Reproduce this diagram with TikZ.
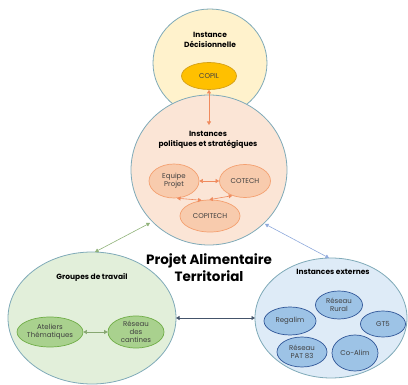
\documentclass[tikz,border=0pt]{standalone}
\usepackage{fontspec}
\setmainfont{Poppins}
\usetikzlibrary{arrows.meta,shapes.geometric}
\definecolor{rim}{HTML}{7FAAB8}
\definecolor{yelfill}{HTML}{FFF2CC}
\definecolor{copilfill}{HTML}{FFC000}
\definecolor{copildraw}{HTML}{D4A017}
\definecolor{pinkfill}{HTML}{FBE5D6}
\definecolor{orfill}{HTML}{F8CBAD}
\definecolor{ordraw}{HTML}{F4A070}
\definecolor{orarrow}{HTML}{F08A5D}
\definecolor{grfill}{HTML}{E2EFDA}
\definecolor{grin}{HTML}{A9D18E}
\definecolor{grdraw}{HTML}{70AD47}
\definecolor{blfill}{HTML}{DEEBF7}
\definecolor{blin}{HTML}{9DC3E6}
\definecolor{bldraw}{HTML}{2F5597}
\definecolor{blarrow}{HTML}{8FAADC}
\definecolor{darkarrow}{HTML}{44546A}
\tikzset{
  inner/.style={draw, line width=0.7pt, ellipse, inner sep=0pt, align=center, font=\fontsize{7}{8}\selectfont, text=black!75},
  lbl/.style={font=\bfseries\fontsize{7.5}{9.5}\selectfont, align=center},
  dbl/.style={{Triangle[width=4pt,length=3.5pt]}-{Triangle[width=4pt,length=3.5pt]}, line width=0.6pt},
}
\begin{document}
\begin{tikzpicture}[x=1pt,y=-1pt]
\useasboundingbox (0,0) rectangle (408,385);
% big circles
\fill[yelfill, draw=rim, line width=0.8pt] (210,63) ellipse [x radius=57, y radius=54];
\node[inner, fill=copilfill, draw=copildraw, minimum width=55pt, minimum height=27pt] (copil) at (209,76) {COPIL};
\fill[pinkfill, draw=rim, line width=0.8pt] (209,170) ellipse [x radius=78, y radius=75];
\fill[grfill, draw=rim, line width=0.8pt] (92,318) ellipse [x radius=84, y radius=66];
\fill[blfill, draw=rim, line width=0.8pt] (331,318) ellipse [x radius=76, y radius=60];
% named anchors on big circles
\coordinate (midtop) at (209,125);
\coordinate (midbl) at (150,223);
\coordinate (midbr) at (265,224);
\coordinate (grtop) at (95,252);
\coordinate (grright) at (176,318);
\coordinate (bltop) at (329,258);
\coordinate (blleft) at (255,318);
% labels
\node[lbl] (titre1) at (210,40) {Instance\\Décisionnelle};
\node[lbl] (titre2) at (208,140) {Instances\\politiques et stratégiques};
\node[lbl] (titre3) at (92,277) {Groupes de travail};
\node[lbl] (titre4) at (333,272) {Instances externes};
\node[font=\bfseries\fontsize{13.5}{17}\selectfont, align=center] (pat) at (209,268) {Projet Alimentaire\\Territorial};
% middle inner
\node[inner, fill=orfill, draw=ordraw, minimum width=50pt, minimum height=34pt] (equipe) at (174,181) {Equipe\\Projet};
\node[inner, fill=orfill, draw=ordraw, minimum width=51pt, minimum height=33pt] (cotech) at (245,181) {COTECH};
\node[inner, fill=orfill, draw=ordraw, minimum width=60pt, minimum height=32pt] (copitech) at (210,216) {COPITECH};
% green inner
\node[inner, fill=grin, draw=grdraw, minimum width=66pt, minimum height=30pt] (ateliers) at (50,332) {Ateliers\\Thématiques};
\node[inner, fill=grin, draw=grdraw, minimum width=56pt, minimum height=32pt] (reseaucant) at (136,332) {Réseau\\des\\cantines};
% blue inner
\node[inner, fill=blin, draw=bldraw, minimum width=47pt, minimum height=28pt] (rural) at (339,305) {Réseau\\Rural};
\node[inner, fill=blin, draw=bldraw, minimum width=52pt, minimum height=28pt] (regalim) at (290,321) {Regalim};
\node[inner, fill=blin, draw=bldraw, minimum width=45pt, minimum height=26pt] (gt5) at (383,324) {GT5};
\node[inner, fill=blin, draw=bldraw, minimum width=50pt, minimum height=30pt] (pat83) at (302,352) {Réseau\\PAT 83};
\node[inner, fill=blin, draw=bldraw, minimum width=46pt, minimum height=36pt] (coalim) at (355,353) {Co-Alim};
% arrows
\draw[dbl, orarrow] (copil) -- (midtop);
\draw[dbl, orarrow] (equipe) -- (cotech);
\draw[dbl, orarrow] (equipe.-80) -- (copitech.118);
\draw[dbl, orarrow] (cotech.-131) -- (copitech.92);
\draw[dbl, grin!80!black] (ateliers) -- (reseaucant);
\draw[dbl, grin!85!black] (grtop) -- (midbl);
\draw[dbl, blarrow] (midbr) -- (bltop);
\draw[dbl, darkarrow] (grright) -- (blleft);
\end{tikzpicture}
\end{document}
